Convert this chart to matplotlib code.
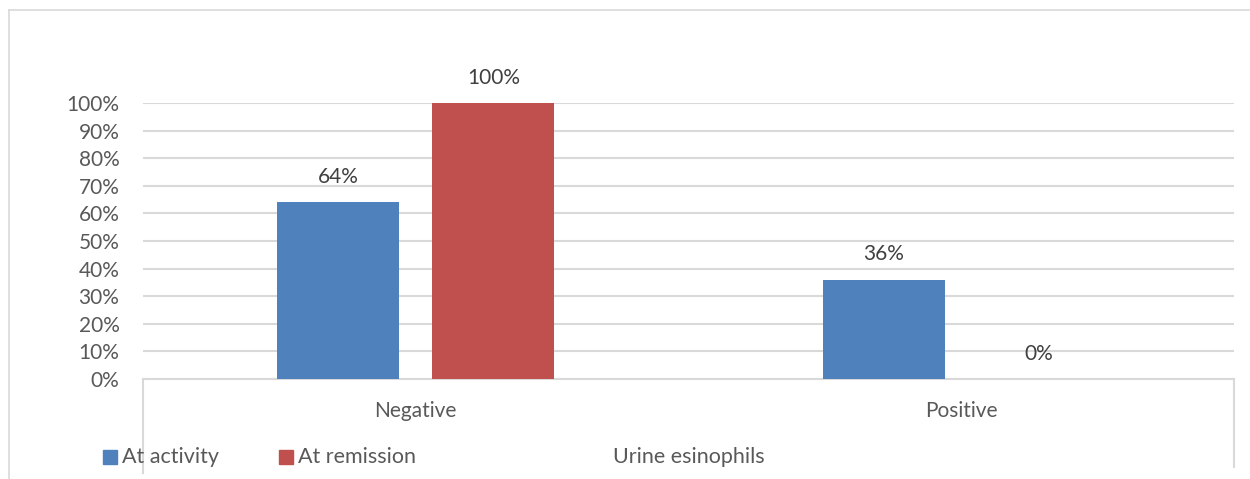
import numpy as np
import matplotlib
matplotlib.use("Agg")
import matplotlib.pyplot as plt
from matplotlib.patches import Rectangle
from matplotlib.lines import Line2D

# urine eosinophils, share of patients per group
categories = ["Negative", "Positive"]
series_names = ["At activity", "At remission"]
at_activity = [64, 36]
at_remission = [100, 0]
yticks = [0, 10, 20, 30, 40, 50, 60, 70, 80, 90, 100]

blue = "#4F81BD"
red = "#C0504D"
grid_col = "#D9D9D9"
text_col = "#595959"

plt.rcParams["font.family"] = ["Lato", "DejaVu Sans"]

W, H = 1250, 479
fig = plt.figure(figsize=(W / 100, H / 100), dpi=100)

# outer chart frame (runs off the right and bottom edges)
fig.add_artist(Line2D([9 / W, 9 / W], [0, 1 - 10 / H], color=grid_col, lw=1.2))
fig.add_artist(Line2D([9 / W, 1], [1 - 10 / H, 1 - 10 / H], color=grid_col, lw=1.2))

ax = fig.add_axes([143 / W, 1 - 379 / H, (1234 - 143) / W, (379 - 103) / H])

x = np.arange(len(categories))
bw = 0.224
gap = 33 / 545.5
b1 = ax.bar(x - (bw + gap) / 2, at_activity, bw, color=blue, zorder=3)
b2 = ax.bar(x + (bw + gap) / 2, at_remission, bw, color=red, zorder=3)

for bars, vals in [(b1, at_activity), (b2, at_remission)]:
    for rect, v in zip(bars, vals):
        ax.annotate(f"{v}%", (rect.get_x() + rect.get_width() / 2, v),
                    xytext=(0, 11), textcoords="offset points",
                    ha="center", va="bottom", fontsize=15, color="#404040")

ax.set_xlim(-0.5, 1.5)
ax.set_ylim(0, 100)
ax.set_yticks(yticks)
ax.set_yticklabels([f"{t}%" for t in yticks])
ax.yaxis.grid(True, color=grid_col, lw=1.5, zorder=0)
ax.set_xticks(x)
ax.set_xticklabels(categories)
ax.tick_params(axis="y", length=0, pad=17, labelsize=15, labelcolor=text_col)
ax.tick_params(axis="x", length=0, pad=16, labelsize=15, labelcolor=text_col)
for s in ["top", "right", "left"]:
    ax.spines[s].set_visible(False)
ax.spines["bottom"].set_color(grid_col)
ax.spines["bottom"].set_linewidth(1.5)

# category axis box sides
ax.plot([0, 0], [0, -0.34], transform=ax.transAxes, color=grid_col, lw=1.5, clip_on=False)
ax.plot([1, 1], [0, -0.32], transform=ax.transAxes, color=grid_col, lw=1.5, clip_on=False)

# legend and axis title along the bottom
ly = 1 - 457 / H
for xs, col, name in [(103, blue, series_names[0]), (279, red, series_names[1])]:
    fig.add_artist(Rectangle((xs / W, ly - 7 / H), 14 / W, 14 / H,
                             transform=fig.transFigure, color=col))
    fig.text((xs + 19) / W, ly, name, ha="left", va="center",
             fontsize=15.5, color=text_col)
fig.text(689 / W, ly, "Urine esinophils", ha="center", va="center",
         fontsize=15.5, color=text_col)

fig.savefig("out.png", dpi=100)
